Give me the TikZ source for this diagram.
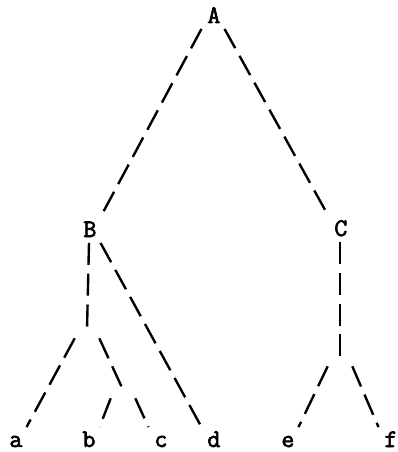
\documentclass[tikz,border=0pt]{standalone}
\usepackage{fontspec}
\setmonofont{Latin Modern Mono}[AutoFakeBold=2.5]

\begin{document}
\begin{tikzpicture}[x=0.025cm, y=-0.025cm,
  lbl/.style={anchor=base, inner sep=4pt, text width=8pt, align=center, text height=10pt, text depth=0pt, font=\ttfamily\bfseries\fontsize{18}{22}\selectfont},
  junc/.style={inner sep=0pt, minimum width=0.6cm, minimum height=0.2cm},
  branch/.style={line width=1.7pt, dash pattern=on 0.55cm off 0.22cm}]
\useasboundingbox (0,0) rectangle (398,452);

% inner labels
\node[lbl] (A) at (213,23) {A};
\node[lbl] (B) at (89,237) {B};
\node[lbl] (C) at (340,236) {C};

% hidden branch points
\node[junc] (x) at (87,334) {};
\node[junc] (y) at (123,394) {};
\node[junc] (z) at (340,362) {};

% leaves
\node[lbl] (a) at (15,447) {a};
\node[lbl] (b) at (88,447) {b};
\node[lbl] (c) at (160,447) {c};
\node[lbl] (d) at (213,447) {d};
\node[lbl] (e) at (287,447) {e};
\node[lbl] (f) at (390,447) {f};

\draw[branch] (A.south west) -- (B.north east);
\draw[branch] (A.south east) -- (C.north west);
\draw[branch] (B.south) -- (x.north);
\draw[branch] (B.south east) -- (d.north west);
\draw[branch] (x.south west) -- (a.north east);
\draw[branch] (x.south east) -- (y.north);
\draw[branch] (y.south west) -- (b.north east);
\draw[branch] (y.south east) -- (c.north west);
\draw[branch] (C.south) -- (z.north);
\draw[branch] (z.south west) -- (e.north east);
\draw[branch] (z.south east) -- (f.north west);

\end{tikzpicture}
\end{document}
